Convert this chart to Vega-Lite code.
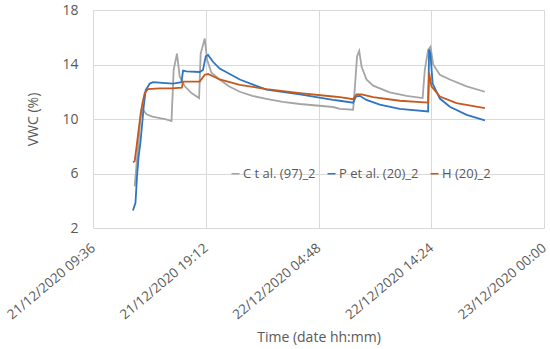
{
  "$schema": "https://vega.github.io/schema/vega-lite/v6.json",
  "width": 451,
  "height": 218,
  "autosize": "none",
  "padding": {"left": 93, "top": 10, "right": 6, "bottom": 121},
  "background": "white",
  "config": {
    "view": {"stroke": null},
    "font": "Open Sans",
    "axis": {"labelColor": "#595959", "titleColor": "#595959", "labelFontSize": 14, "titleFontSize": 14, "titleFontWeight": "normal", "gridColor": "#D9D9D9", "gridWidth": 1, "domain": false, "ticks": false, "labelFont": "Open Sans", "titleFont": "Open Sans"},
    "legend": {"labelFont": "Open Sans", "labelFontSize": 13, "labelColor": "#595959"}
  },
  "data": {
    "values": [
      {"series": "C t al. (97)_2", "time": "2020-12-21 13:09", "vwc": 5.06},
      {"series": "C t al. (97)_2", "time": "2020-12-21 13:38", "vwc": 9.95},
      {"series": "C t al. (97)_2", "time": "2020-12-21 13:46", "vwc": 10.8},
      {"series": "C t al. (97)_2", "time": "2020-12-21 14:09", "vwc": 10.35},
      {"series": "C t al. (97)_2", "time": "2020-12-21 14:40", "vwc": 10.18},
      {"series": "C t al. (97)_2", "time": "2020-12-21 15:17", "vwc": 10.07},
      {"series": "C t al. (97)_2", "time": "2020-12-21 15:50", "vwc": 9.97},
      {"series": "C t al. (97)_2", "time": "2020-12-21 16:17", "vwc": 9.85},
      {"series": "C t al. (97)_2", "time": "2020-12-21 16:28", "vwc": 13.6},
      {"series": "C t al. (97)_2", "time": "2020-12-21 16:45", "vwc": 14.8},
      {"series": "C t al. (97)_2", "time": "2020-12-21 16:59", "vwc": 13.1},
      {"series": "C t al. (97)_2", "time": "2020-12-21 17:25", "vwc": 12.4},
      {"series": "C t al. (97)_2", "time": "2020-12-21 17:59", "vwc": 11.9},
      {"series": "C t al. (97)_2", "time": "2020-12-21 18:38", "vwc": 11.54},
      {"series": "C t al. (97)_2", "time": "2020-12-21 18:46", "vwc": 14.8},
      {"series": "C t al. (97)_2", "time": "2020-12-21 19:07", "vwc": 15.9},
      {"series": "C t al. (97)_2", "time": "2020-12-21 19:19", "vwc": 14.35},
      {"series": "C t al. (97)_2", "time": "2020-12-21 19:41", "vwc": 13.4},
      {"series": "C t al. (97)_2", "time": "2020-12-21 20:23", "vwc": 12.9},
      {"series": "C t al. (97)_2", "time": "2020-12-21 21:10", "vwc": 12.4},
      {"series": "C t al. (97)_2", "time": "2020-12-21 22:06", "vwc": 12.0},
      {"series": "C t al. (97)_2", "time": "2020-12-21 23:10", "vwc": 11.7},
      {"series": "C t al. (97)_2", "time": "2020-12-22 00:22", "vwc": 11.47},
      {"series": "C t al. (97)_2", "time": "2020-12-22 01:45", "vwc": 11.25},
      {"series": "C t al. (97)_2", "time": "2020-12-22 03:13", "vwc": 11.1},
      {"series": "C t al. (97)_2", "time": "2020-12-22 06:02", "vwc": 10.88},
      {"series": "C t al. (97)_2", "time": "2020-12-22 06:37", "vwc": 10.75},
      {"series": "C t al. (97)_2", "time": "2020-12-22 07:45", "vwc": 10.68},
      {"series": "C t al. (97)_2", "time": "2020-12-22 07:53", "vwc": 12.15},
      {"series": "C t al. (97)_2", "time": "2020-12-22 08:05", "vwc": 14.6},
      {"series": "C t al. (97)_2", "time": "2020-12-22 08:16", "vwc": 15.0},
      {"series": "C t al. (97)_2", "time": "2020-12-22 08:28", "vwc": 13.85},
      {"series": "C t al. (97)_2", "time": "2020-12-22 08:53", "vwc": 12.9},
      {"series": "C t al. (97)_2", "time": "2020-12-22 09:27", "vwc": 12.45},
      {"series": "C t al. (97)_2", "time": "2020-12-22 10:52", "vwc": 11.95},
      {"series": "C t al. (97)_2", "time": "2020-12-22 12:18", "vwc": 11.7},
      {"series": "C t al. (97)_2", "time": "2020-12-22 13:40", "vwc": 11.54},
      {"series": "C t al. (97)_2", "time": "2020-12-22 13:51", "vwc": 13.6},
      {"series": "C t al. (97)_2", "time": "2020-12-22 14:08", "vwc": 15.08},
      {"series": "C t al. (97)_2", "time": "2020-12-22 14:20", "vwc": 15.3},
      {"series": "C t al. (97)_2", "time": "2020-12-22 14:34", "vwc": 14.0},
      {"series": "C t al. (97)_2", "time": "2020-12-22 15:08", "vwc": 13.25},
      {"series": "C t al. (97)_2", "time": "2020-12-22 15:59", "vwc": 12.9},
      {"series": "C t al. (97)_2", "time": "2020-12-22 17:25", "vwc": 12.4},
      {"series": "C t al. (97)_2", "time": "2020-12-22 18:58", "vwc": 12.0},

      {"series": "P et al. (20)_2", "time": "2020-12-21 13:00", "vwc": 3.28},
      {"series": "P et al. (20)_2", "time": "2020-12-21 13:13", "vwc": 3.85},
      {"series": "P et al. (20)_2", "time": "2020-12-21 13:21", "vwc": 5.8},
      {"series": "P et al. (20)_2", "time": "2020-12-21 13:29", "vwc": 7.26},
      {"series": "P et al. (20)_2", "time": "2020-12-21 13:38", "vwc": 8.24},
      {"series": "P et al. (20)_2", "time": "2020-12-21 13:46", "vwc": 9.46},
      {"series": "P et al. (20)_2", "time": "2020-12-21 13:55", "vwc": 10.9},
      {"series": "P et al. (20)_2", "time": "2020-12-21 14:05", "vwc": 12.1},
      {"series": "P et al. (20)_2", "time": "2020-12-21 14:26", "vwc": 12.6},
      {"series": "P et al. (20)_2", "time": "2020-12-21 14:43", "vwc": 12.7},
      {"series": "P et al. (20)_2", "time": "2020-12-21 15:30", "vwc": 12.65},
      {"series": "P et al. (20)_2", "time": "2020-12-21 16:25", "vwc": 12.6},
      {"series": "P et al. (20)_2", "time": "2020-12-21 17:08", "vwc": 12.7},
      {"series": "P et al. (20)_2", "time": "2020-12-21 17:16", "vwc": 13.55},
      {"series": "P et al. (20)_2", "time": "2020-12-21 17:33", "vwc": 13.5},
      {"series": "P et al. (20)_2", "time": "2020-12-21 18:41", "vwc": 13.45},
      {"series": "P et al. (20)_2", "time": "2020-12-21 18:58", "vwc": 13.6},
      {"series": "P et al. (20)_2", "time": "2020-12-21 19:12", "vwc": 14.6},
      {"series": "P et al. (20)_2", "time": "2020-12-21 19:24", "vwc": 14.7},
      {"series": "P et al. (20)_2", "time": "2020-12-21 19:49", "vwc": 14.2},
      {"series": "P et al. (20)_2", "time": "2020-12-21 20:23", "vwc": 13.7},
      {"series": "P et al. (20)_2", "time": "2020-12-21 22:06", "vwc": 12.9},
      {"series": "P et al. (20)_2", "time": "2020-12-22 00:22", "vwc": 12.15},
      {"series": "P et al. (20)_2", "time": "2020-12-22 03:13", "vwc": 11.8},
      {"series": "P et al. (20)_2", "time": "2020-12-22 06:02", "vwc": 11.4},
      {"series": "P et al. (20)_2", "time": "2020-12-22 06:37", "vwc": 11.34},
      {"series": "P et al. (20)_2", "time": "2020-12-22 07:45", "vwc": 11.2},
      {"series": "P et al. (20)_2", "time": "2020-12-22 07:59", "vwc": 11.65},
      {"series": "P et al. (20)_2", "time": "2020-12-22 08:19", "vwc": 11.7},
      {"series": "P et al. (20)_2", "time": "2020-12-22 08:53", "vwc": 11.4},
      {"series": "P et al. (20)_2", "time": "2020-12-22 10:01", "vwc": 11.05},
      {"series": "P et al. (20)_2", "time": "2020-12-22 11:43", "vwc": 10.75},
      {"series": "P et al. (20)_2", "time": "2020-12-22 14:08", "vwc": 10.55},
      {"series": "P et al. (20)_2", "time": "2020-12-22 14:13", "vwc": 15.1},
      {"series": "P et al. (20)_2", "time": "2020-12-22 14:20", "vwc": 14.8},
      {"series": "P et al. (20)_2", "time": "2020-12-22 14:31", "vwc": 12.6},
      {"series": "P et al. (20)_2", "time": "2020-12-22 15:08", "vwc": 11.5},
      {"series": "P et al. (20)_2", "time": "2020-12-22 15:59", "vwc": 10.9},
      {"series": "P et al. (20)_2", "time": "2020-12-22 17:25", "vwc": 10.3},
      {"series": "P et al. (20)_2", "time": "2020-12-22 18:58", "vwc": 9.9},

      {"series": "H (20)_2", "time": "2020-12-21 13:00", "vwc": 6.82},
      {"series": "H (20)_2", "time": "2020-12-21 13:09", "vwc": 6.9},
      {"series": "H (20)_2", "time": "2020-12-21 13:21", "vwc": 8.24},
      {"series": "H (20)_2", "time": "2020-12-21 13:29", "vwc": 9.2},
      {"series": "H (20)_2", "time": "2020-12-21 13:40", "vwc": 10.44},
      {"series": "H (20)_2", "time": "2020-12-21 13:49", "vwc": 11.2},
      {"series": "H (20)_2", "time": "2020-12-21 14:00", "vwc": 11.9},
      {"series": "H (20)_2", "time": "2020-12-21 14:17", "vwc": 12.2},
      {"series": "H (20)_2", "time": "2020-12-21 15:17", "vwc": 12.25},
      {"series": "H (20)_2", "time": "2020-12-21 16:17", "vwc": 12.25},
      {"series": "H (20)_2", "time": "2020-12-21 17:10", "vwc": 12.3},
      {"series": "H (20)_2", "time": "2020-12-21 17:16", "vwc": 12.75},
      {"series": "H (20)_2", "time": "2020-12-21 18:41", "vwc": 12.75},
      {"series": "H (20)_2", "time": "2020-12-21 19:07", "vwc": 13.25},
      {"series": "H (20)_2", "time": "2020-12-21 19:24", "vwc": 13.3},
      {"series": "H (20)_2", "time": "2020-12-21 20:23", "vwc": 12.9},
      {"series": "H (20)_2", "time": "2020-12-21 22:06", "vwc": 12.5},
      {"series": "H (20)_2", "time": "2020-12-22 00:22", "vwc": 12.2},
      {"series": "H (20)_2", "time": "2020-12-22 03:13", "vwc": 11.9},
      {"series": "H (20)_2", "time": "2020-12-22 06:02", "vwc": 11.65},
      {"series": "H (20)_2", "time": "2020-12-22 06:37", "vwc": 11.6},
      {"series": "H (20)_2", "time": "2020-12-22 07:45", "vwc": 11.45},
      {"series": "H (20)_2", "time": "2020-12-22 08:02", "vwc": 11.8},
      {"series": "H (20)_2", "time": "2020-12-22 08:28", "vwc": 11.8},
      {"series": "H (20)_2", "time": "2020-12-22 09:27", "vwc": 11.6},
      {"series": "H (20)_2", "time": "2020-12-22 11:43", "vwc": 11.34},
      {"series": "H (20)_2", "time": "2020-12-22 14:08", "vwc": 11.2},
      {"series": "H (20)_2", "time": "2020-12-22 14:13", "vwc": 13.4},
      {"series": "H (20)_2", "time": "2020-12-22 14:25", "vwc": 12.4},
      {"series": "H (20)_2", "time": "2020-12-22 15:08", "vwc": 11.65},
      {"series": "H (20)_2", "time": "2020-12-22 16:33", "vwc": 11.17},
      {"series": "H (20)_2", "time": "2020-12-22 18:58", "vwc": 10.8}
    ],
    "format": {"parse": {"time": "utc:'%Y-%m-%d %H:%M'"}}
  },
  "mark": {"type": "line", "strokeWidth": 1.8, "interpolate": "linear"},
  "encoding": {
    "x": {
      "field": "time",
      "type": "temporal",
      "scale": {
        "type": "utc",
        "domain": [
          {"year": 2020, "month": 12, "date": 21, "hours": 9, "minutes": 36, "utc": true},
          {"year": 2020, "month": 12, "date": 23, "hours": 0, "minutes": 0, "utc": true}
        ],
        "nice": false
      },
      "axis": {
        "title": "Time (date hh:mm)",
        "format": "%d/%m/%Y %H:%M",
        "values": [
          {"year": 2020, "month": 12, "date": 21, "hours": 9, "minutes": 36, "utc": true},
          {"year": 2020, "month": 12, "date": 21, "hours": 19, "minutes": 12, "utc": true},
          {"year": 2020, "month": 12, "date": 22, "hours": 4, "minutes": 48, "utc": true},
          {"year": 2020, "month": 12, "date": 22, "hours": 14, "minutes": 24, "utc": true},
          {"year": 2020, "month": 12, "date": 23, "hours": 0, "minutes": 0, "utc": true}
        ],
        "labelAngle": -40,
        "labelAlign": "right",
        "labelBaseline": "middle",
        "labelFontSize": 13.5,
        "labelPadding": 18,
        "labelOverlap": false,
        "labelFlush": false,
        "titlePadding": 9
      }
    },
    "y": {
      "field": "vwc",
      "type": "quantitative",
      "scale": {"domain": [2, 18], "nice": false, "zero": false},
      "axis": {"title": "VWC (%)", "values": [2, 6, 10, 14, 18], "labelPadding": 15, "titlePadding": 21}
    },
    "color": {
      "field": "series",
      "type": "nominal",
      "sort": null,
      "scale": {"domain": ["C t al. (97)_2", "P et al. (20)_2", "H (20)_2"], "range": ["#A5A5A5", "#2F75C0", "#C55A1E"]},
      "legend": {
        "title": null,
        "orient": "none",
        "direction": "horizontal",
        "legendX": 136,
        "legendY": 157,
        "symbolType": "stroke",
        "symbolSize": 64,
        "symbolStrokeWidth": 1.5,
        "labelOffset": 1,
        "columnPadding": 8
      }
    }
  }
}
